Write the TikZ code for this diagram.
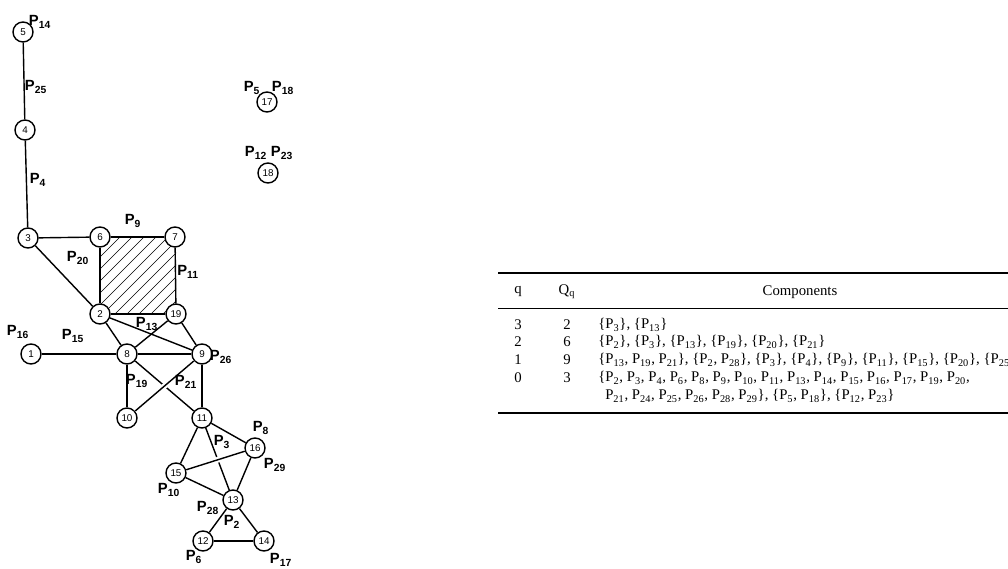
\documentclass[tikz,border=0pt]{standalone}
\usepackage{fontspec}
\setmainfont{Liberation Serif}
\setsansfont{Liberation Sans}
\usepackage{tikz}
\usetikzlibrary{calc}

\newcommand{\Pn}[1]{P\textsubscript{#1}}

\tikzset{
  vert/.style={draw,circle,line width=1pt,fill=white,minimum size=0.5cm,inner sep=0pt,font=\sffamily\fontsize{7}{7}\selectfont},
  plab/.style={font=\sffamily\bfseries\fontsize{10.5}{10.5}\selectfont,inner sep=0pt},
  edge/.style={line width=1pt},
  over/.style={line width=1pt,preaction={draw,white,line width=4pt}},
  tabtxt/.style={anchor=west,inner sep=0pt,font=\fontsize{10.5}{12}\selectfont}
}

\begin{document}
\begin{tikzpicture}[x=0.025cm,y=-0.025cm]
  \useasboundingbox (0,0) rectangle (1008,568);
  % hatched 2-simplex
  \begin{scope}
    \clip (100,237) rectangle (176,314);
    \foreach \c in {345,357,...,490}
      \draw[thin] (\c-320,320) -- (\c-230,230);
  \end{scope}
  \node[vert] (n5) at (23,32) {5};
  \node[vert] (n4) at (25,130) {4};
  \node[vert] (n3) at (28,238) {3};
  \node[vert] (n6) at (100,237) {6};
  \node[vert] (n7) at (175,237) {7};
  \node[vert] (n2) at (100,314) {2};
  \node[vert] (n19) at (176,314) {19};
  \node[vert] (n1) at (31,354) {1};
  \node[vert] (n8) at (127,354) {8};
  \node[vert] (n9) at (202,354) {9};
  \node[vert] (n10) at (127,418) {10};
  \node[vert] (n11) at (202,418) {11};
  \node[vert] (n16) at (255,448) {16};
  \node[vert] (n15) at (176,473) {15};
  \node[vert] (n13) at (233,500) {13};
  \node[vert] (n12) at (203,541) {12};
  \node[vert] (n14) at (264,541) {14};
  \node[vert] (n17) at (267,102) {17};
  \node[vert] (n18) at (268,173) {18};
  \draw[edge] (n5) -- (n4);
  \draw[edge] (n4) -- (n3);
  \draw[edge] (n3) -- (n6);
  \draw[edge] (n3) -- (n2);
  \draw[edge] (n6) -- (n7);
  \draw[edge] (n6) -- (n2);
  \draw[edge] (n7) -- (n19);
  \draw[edge] (n2) -- (n19);
  \draw[edge] (n2) -- (n8);
  \draw[edge] (n2) -- (n9);
  \draw[edge] (n19) -- (n8);
  \draw[edge] (n19) -- (n9);
  \draw[edge] (n1) -- (n8);
  \draw[edge] (n8) -- (n9);
  \draw[edge] (n8) -- (n10);
  \draw[edge] (n8) -- (n11);
  \draw[over] (n9) -- (n10);
  \draw[edge] (n9) -- (n11);
  \draw[edge] (n11) -- (n15);
  \draw[edge] (n11) -- (n16);
  \draw[edge] (n11) -- (n13);
  \draw[over] (n15) -- (n16);
  \draw[edge] (n15) -- (n13);
  \draw[edge] (n16) -- (n13);
  \draw[edge] (n13) -- (n12);
  \draw[edge] (n13) -- (n14);
  \draw[edge] (n12) -- (n14);
  \node[plab] (l14) at (40,22) {\Pn{14}};
  \node[plab] (l25) at (36,87) {\Pn{25}};
  \node[plab] (l4) at (38,180) {\Pn{4}};
  \node[plab] (l5) at (252,88) {\Pn{5}};
  \node[plab] (l18) at (283,88) {\Pn{18}};
  \node[plab] (l12) at (256,153) {\Pn{12}};
  \node[plab] (l23) at (282,153) {\Pn{23}};
  \node[plab] (l9) at (133,221) {\Pn{9}};
  \node[plab] (l20) at (78,258) {\Pn{20}};
  \node[plab] (l11) at (188,272) {\Pn{11}};
  \node[plab] (l13) at (147,324) {\Pn{13}};
  \node[plab] (l16) at (18,332) {\Pn{16}};
  \node[plab] (l15) at (73,336) {\Pn{15}};
  \node[plab] (l26) at (221,357) {\Pn{26}};
  \node[plab] (l19) at (137,381) {\Pn{19}};
  \node[plab] (l21) at (186,382) {\Pn{21}};
  \node[plab] (l8) at (261,428) {\Pn{8}};
  \node[plab] (l3) at (222,442) {\Pn{3}};
  \node[plab] (l29) at (275,465) {\Pn{29}};
  \node[plab] (l10) at (169,490) {\Pn{10}};
  \node[plab] (l28) at (208,508) {\Pn{28}};
  \node[plab] (l2) at (232,522) {\Pn{2}};
  \node[plab] (l6) at (194,557) {\Pn{6}};
  \node[plab] (l17) at (281,560) {\Pn{17}};
  % table
  \draw[line width=1pt] (498,273) -- (1008,273);
  \draw[thin] (498,308) -- (1008,308);
  \draw[line width=1pt] (498,413) -- (1008,413);
  \node[tabtxt,anchor=center] (hq) at (518,292) {q};
  \node[tabtxt,anchor=center] (hQ) at (567,292) {Q\textsubscript{q}};
  \node[tabtxt,anchor=center] (hc) at (800,292) {Components};
  \foreach \q/\n/\y in {3/2/325,2/6/342,1/9/360,0/3/378}{
    \node[tabtxt,anchor=center] at (518,\y) {\q};
    \node[tabtxt,anchor=center] at (567,\y) {\n};
  }
  \node[tabtxt] (r3) at (598,325) {\{\Pn{3}\}, \{\Pn{13}\}};
  \node[tabtxt] (r2) at (598,342) {\{\Pn{2}\}, \{\Pn{3}\}, \{\Pn{13}\}, \{\Pn{19}\}, \{\Pn{20}\}, \{\Pn{21}\}};
  \node[tabtxt] (r1) at (598,360) {\{\Pn{13}, \Pn{19}, \Pn{21}\}, \{\Pn{2}, \Pn{28}\}, \{\Pn{3}\}, \{\Pn{4}\}, \{\Pn{9}\}, \{\Pn{11}\}, \{\Pn{15}\}, \{\Pn{20}\}, \{\Pn{25}\}};
  \node[tabtxt] (r0) at (598,378) {\{\Pn{2}, \Pn{3}, \Pn{4}, \Pn{6}, \Pn{8}, \Pn{9}, \Pn{10}, \Pn{11}, \Pn{13}, \Pn{14}, \Pn{15}, \Pn{16}, \Pn{17}, \Pn{19}, \Pn{20},};
  \node[tabtxt] (r0b) at (605,396) {\Pn{21}, \Pn{24}, \Pn{25}, \Pn{26}, \Pn{28}, \Pn{29}\}, \{\Pn{5}, \Pn{18}\}, \{\Pn{12}, \Pn{23}\}};
\end{tikzpicture}
\end{document}
